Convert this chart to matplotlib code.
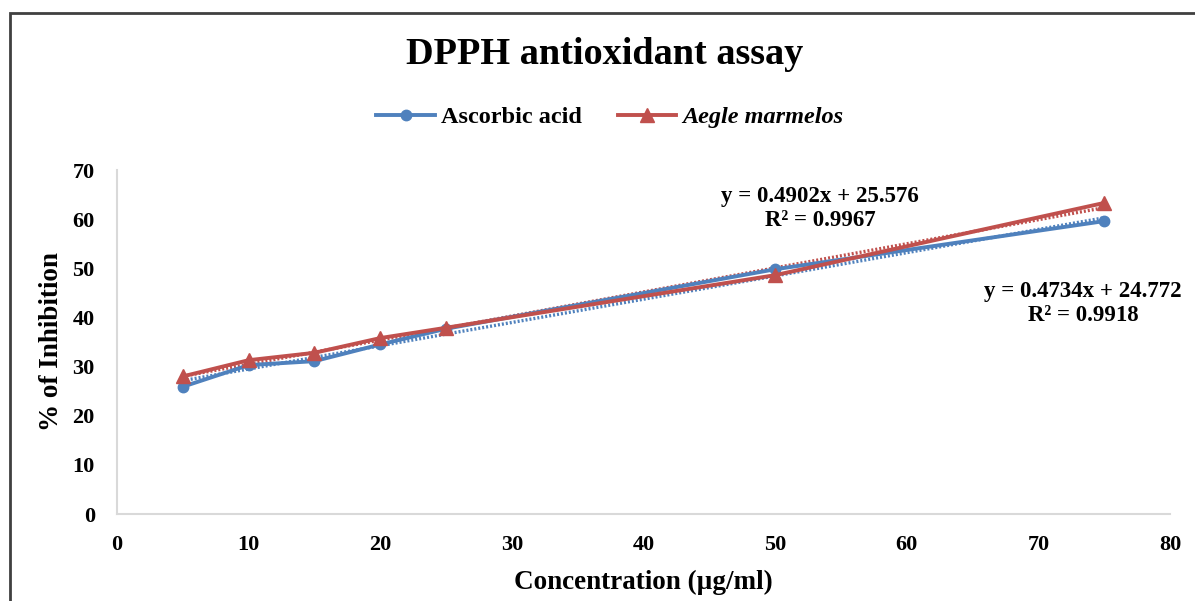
import matplotlib
matplotlib.use("Agg")
import matplotlib.pyplot as plt
from matplotlib.patches import Rectangle
import numpy as np

conc = [5, 10, 15, 20, 25, 50, 75]
ascorbic = [25.9, 30.3, 31.1, 34.5, 37.7, 49.8, 59.6]
aegle = [28.0, 31.3, 32.8, 35.8, 37.9, 48.6, 63.3]
series_names = ["Ascorbic acid", "Aegle marmelos"]
fit_slope = [0.4734, 0.4902]
fit_intercept = [24.772, 25.576]
eq_texts = ["y = 0.4734x + 24.772\nR² = 0.9918", "y = 0.4902x + 25.576\nR² = 0.9967"]
xticks = [0, 10, 20, 30, 40, 50, 60, 70, 80]
yticks = [0, 10, 20, 30, 40, 50, 60, 70]

plt.rcParams['font.family'] = ['Liberation Serif', 'DejaVu Serif']
plt.rcParams['font.weight'] = 'bold'

blue = '#4F81BD'
red = '#C0504D'

fig = plt.figure(figsize=(11.95, 6.01), dpi=100)
ax = fig.add_axes([117/1195, 87/601, (1170-117)/1195, (514-170)/601])

ax.plot(conc, ascorbic, color=blue, lw=2.8, marker='o', ms=7.5, label=series_names[0], zorder=3)
ax.plot(conc, aegle, color=red, lw=2.8, marker='^', ms=9.5, label=series_names[1], zorder=4)

xfit = np.array([conc[0], conc[-1]])
ax.plot(xfit, fit_slope[0] * xfit + fit_intercept[0], color=blue, lw=2.4, ls=(0, (0.6, 0.6)), zorder=2)
ax.plot(xfit, fit_slope[1] * xfit + fit_intercept[1], color=red, lw=2.4, ls=(0, (0.6, 0.6)), zorder=2)

ax.set_xlim(0, 80)
ax.set_ylim(0, 70)
ax.set_xticks(xticks)
ax.set_yticks(yticks)
ax.tick_params(axis='both', length=0, labelsize=16)
ax.tick_params(axis='x', pad=15)
ax.tick_params(axis='y', pad=16)
for lab in ax.get_xticklabels() + ax.get_yticklabels():
    lab.set_fontweight('bold')
for s in ['top', 'right']:
    ax.spines[s].set_visible(False)
for s in ['left', 'bottom']:
    ax.spines[s].set_color('#d9d9d9')
    ax.spines[s].set_linewidth(1.5)

ax.set_xlabel("Concentration (µg/ml)", fontsize=19.5, fontweight='bold', labelpad=11)
ax.set_ylabel("% of Inhibition", fontsize=19.5, fontweight='bold', labelpad=6)

ax.text(53.4, 62.1, eq_texts[1], ha='center', va='center', fontsize=16.5, fontweight='bold', linespacing=1.2)
ax.text(73.4, 42.9, eq_texts[0], ha='center', va='center', fontsize=16.5, fontweight='bold', linespacing=1.2)

fig.text(605/1195, 1 - 55/601, "DPPH antioxidant assay", ha='center', va='center', fontsize=27.5, fontweight='bold')

handles, labels = ax.get_legend_handles_labels()
leg = fig.legend(handles, labels, loc='center', bbox_to_anchor=(610/1195, 1 - 117/601), ncol=2,
                 frameon=False, handlelength=2.4, columnspacing=1.5, handletextpad=0.25,
                 prop={'weight': 'bold', 'size': 17.5})
leg.get_texts()[1].set_fontstyle('italic')

fig.patches.append(Rectangle((10/1195, -0.05), 1.1, (601-13)/601 + 0.05, transform=fig.transFigure,
                             fill=False, edgecolor='#404040', lw=2, zorder=10))

fig.savefig("out.png", dpi=100)
